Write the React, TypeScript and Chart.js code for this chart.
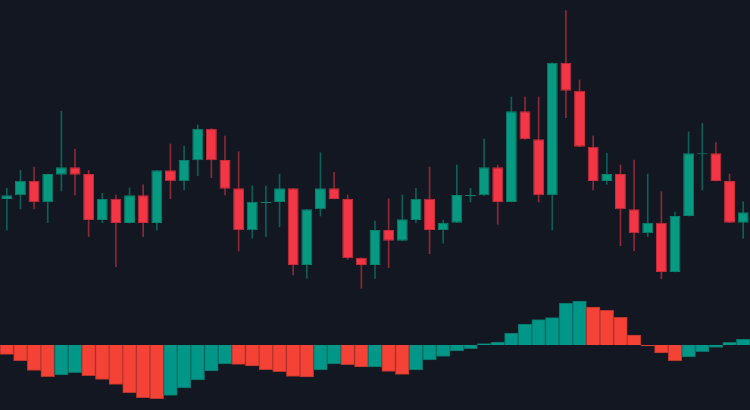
import React, { useEffect, useRef } from "react";
import { Chart, registerables } from "chart.js";

Chart.register(...registerables);

// 55 sessions
const labels: string[] = Array.from({ length: 55 }, (_, i) => `D${i + 1}`);

const opens: number[] = [
  201, 204.7, 219.3, 197.7, 225.3, 232.7, 226, 180, 201.3, 177,
  204.7, 177, 229.7, 218.7, 239.7, 271.3, 240, 211.7, 169.7, 198,
  198, 211.7, 135, 190.7, 211.7, 201, 142.3, 135, 170, 159.3,
  180, 201.3, 170, 177.3, 205, 204.7, 232.7, 198, 288.7, 260.7,
  204.7, 337.3, 309.3, 253.3, 219, 226, 190.7, 166.7, 177.3, 128,
  184, 246.7, 246.7, 219, 177.3,
];
const highs: number[] = [
  211.7, 229.7, 233, 226, 288.7, 250.7, 229.7, 206.7, 205, 212,
  215.3, 229.7, 256, 254, 275, 271.3, 264, 248.3, 214, 214,
  226, 211.7, 190.7, 247.3, 227.7, 205, 142.3, 179, 201.3, 205,
  211.7, 233, 180, 235, 211.7, 261, 235, 303, 303, 303,
  337.3, 389.3, 320, 264, 246.7, 235, 240, 226, 208.3, 188,
  268, 276.7, 257.3, 226, 198.3,
];
const lows: number[] = [
  170, 191, 191, 177.3, 209, 205, 163.3, 177.3, 133.3, 177,
  163.3, 170, 201.3, 210, 224.3, 222.3, 205, 149, 162, 163.3,
  173.3, 125, 121.7, 184, 201, 140.7, 111.7, 121.7, 132.3, 159.3,
  177.3, 146.3, 156.7, 177.3, 198, 204.7, 175.7, 198, 260.7, 198,
  170, 282.3, 253.3, 210, 215.7, 154.3, 149.3, 163.3, 121.3, 128,
  184, 210, 219, 177.3, 161.7,
];
const closes: number[] = [
  204.7, 219.3, 197.7, 226, 232.7, 225.3, 180, 201.3, 177, 204.7,
  177, 229.7, 218.7, 240, 271.3, 239.7, 211.3, 169.7, 198.3, 198,
  211.7, 135, 190.7, 211.7, 201, 141.7, 135, 170, 159.3, 180.7,
  201.3, 170, 177.3, 205, 205, 232.7, 198, 288.7, 260.7, 204.7,
  337.3, 309.3, 253.3, 219, 226, 190.7, 166.7, 177.3, 128, 184,
  246.7, 246.7, 219, 177.3, 187.7,
];

const histogram: number[] = [
  -0.93, -1.57, -2.53, -3.17, -3.0, -2.77, -3.07, -3.43, -3.93, -4.77,
  -5.27, -5.37, -5.03, -4.3, -3.5, -2.6, -1.9, -1.93, -2.1, -2.47,
  -2.67, -3.13, -3.2, -2.5, -1.9, -1.97, -2.2, -2.18, -2.63, -2.93,
  -2.5, -1.5, -1.13, -0.6, -0.37, 0.13, 0.3, 1.2, 2.1, 2.53,
  2.73, 4.2, 4.4, 3.8, 3.47, 2.77, 1.0, -0.1, -0.8, -1.57,
  -1.2, -0.67, -0.23, 0.27, 0.6,
];

const BG = "#131722";
const UP = "#089981";
const DOWN = "#F23645";
const UP_WICK = "rgba(8,153,129,0.55)";
const DOWN_WICK = "rgba(242,54,69,0.55)";
const UP_BORDER = "#0a7f6c";
const DOWN_BORDER = "#c92d3a";
const H_UP = "#009688";
const H_DOWN = "#F44336";
const H_UP_BORDER = "#0b6e64";
const H_DOWN_BORDER = "#b8342c";

export default function App() {
  const ref = useRef<HTMLCanvasElement | null>(null);

  useEffect(() => {
    document.body.style.margin = "0";
    document.body.style.background = BG;
    if (!ref.current) return;

    const isUp = closes.map((c, i) => c >= opens[i]);
    const histUp = histogram.map((v, i) => i > 0 && v > histogram[i - 1]);

    const chart = new Chart(ref.current, {
      type: "bar",
      data: {
        labels,
        datasets: [
          {
            label: "body",
            data: opens.map((o, i) => [o, closes[i]]) as any,
            backgroundColor: isUp.map((u) => (u ? UP : DOWN)),
            borderColor: isUp.map((u) => (u ? UP_BORDER : DOWN_BORDER)),
            borderWidth: 1,
            borderSkipped: false,
            barPercentage: 0.8,
            categoryPercentage: 1,
            minBarLength: 1,
            grouped: false,
            yAxisID: "y",
            order: 0,
          } as any,
          {
            label: "wick",
            data: lows.map((l, i) => [l, highs[i]]) as any,
            backgroundColor: isUp.map((u) => (u ? UP_WICK : DOWN_WICK)),
            borderWidth: 0,
            barThickness: 1,
            grouped: false,
            yAxisID: "y",
            order: 1,
          } as any,
          {
            label: "histogram",
            data: histogram,
            backgroundColor: histUp.map((u) => (u ? H_UP : H_DOWN)),
            borderColor: histUp.map((u) => (u ? H_UP_BORDER : H_DOWN_BORDER)),
            borderWidth: 1,
            barPercentage: 1,
            categoryPercentage: 1,
            grouped: false,
            yAxisID: "y2",
            order: 2,
          } as any,
        ],
      },
      options: {
        animation: false,
        responsive: true,
        maintainAspectRatio: false,
        layout: { padding: 0 },
        plugins: {
          legend: { display: false },
          tooltip: { enabled: false },
        },
        scales: {
          x: { display: false, offset: true, grid: { display: false } },
          y: { display: false, min: -10, max: 400 },
          y2: { display: false, min: -6.5, max: 34.5 },
        },
      },
    });
    return () => chart.destroy();
  }, []);

  return (
    <div style={{ width: 750, height: 410, background: BG, position: "relative" }}>
      <canvas ref={ref} />
    </div>
  );
}
